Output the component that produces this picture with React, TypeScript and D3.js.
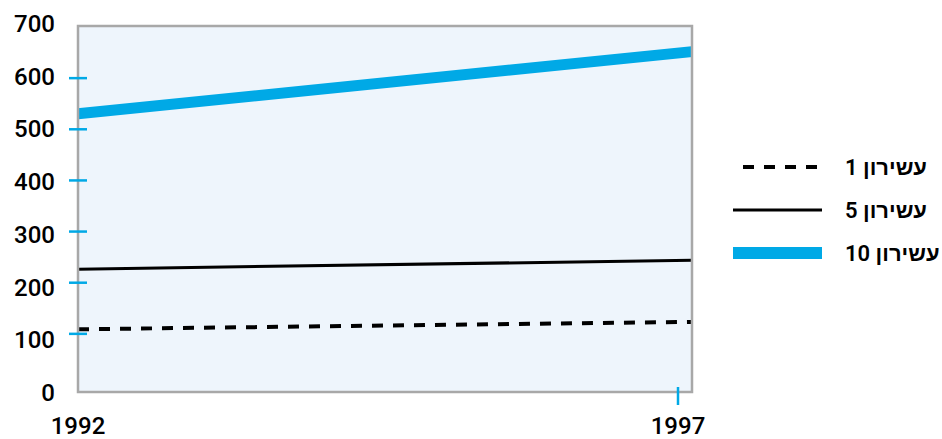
import * as d3 from "d3";

const years = [1992, 1997];
const decile1 = [120, 134];
const decile5 = [235, 252];
const decile10 = [532, 651];
const yTickValues = [100, 200, 300, 400, 500, 600];
const yLabelValues = [0, 100, 200, 300, 400, 500, 600, 700];
const legendLabels = ["עשירון 1", "עשירון 5", "עשירון 10"];

const W = 942;
const H = 439;
const plot = { left: 78, top: 26, right: 692, bottom: 392 };
const font = "Roboto, 'Liberation Sans', Arial, sans-serif";
const blue = "#00a9e6";

function App() {
    const x = d3.scaleLinear().domain([1992, 1997]).range([plot.left, plot.right]);
    const xTick = d3.scaleLinear().domain([1992, 1997]).range([plot.left, 678]);
    const y = d3.scaleLinear().domain([0, 700]).range([plot.bottom, plot.top]);
    const yTick = d3.scaleLinear().domain([0, 700]).range([385, 27]);
    const yLabel = d3.scaleLinear().domain([0, 700]).range([401, 32]);

    const line = d3.line<number>().x((_, i) => x(years[i])).y((v) => y(v));

    const series = [
        { name: legendLabels[0], values: decile1, stroke: "#000", width: 4, dash: "11 10" },
        { name: legendLabels[1], values: decile5, stroke: "#000", width: 3, dash: undefined },
        { name: legendLabels[2], values: decile10, stroke: blue, width: 11, dash: undefined },
    ];
    const legendY = d3.scalePoint().domain(legendLabels).range([167, 253]);

    return (
        <svg width={W} height={H} style={{ position: "absolute", left: 0, top: 0, background: "#fff" }} fontFamily={font}>
            <rect x={plot.left} y={plot.top} width={plot.right - plot.left} height={plot.bottom - plot.top} fill="#eef5fc" />

            {series.map((s) => (
                <path key={s.name} d={line(s.values)!} fill="none" stroke={s.stroke} strokeWidth={s.width} strokeDasharray={s.dash} />
            ))}

            <rect x={plot.left} y={plot.top} width={plot.right - plot.left} height={plot.bottom - plot.top} fill="none" stroke="#a8a8a8" strokeWidth={2.5} />

            {yTickValues.map((t) => (
                <line key={t} x1={69} x2={87} y1={yTick(t)} y2={yTick(t)} stroke={blue} strokeWidth={2.5} />
            ))}
            {yLabelValues.map((t) => (
                <text key={t} x={55} y={yLabel(t)} textAnchor="end" fontSize={24} fontWeight={500}>{t}</text>
            ))}

            <line x1={xTick(1997)} x2={xTick(1997)} y1={387} y2={405} stroke={blue} strokeWidth={2.5} />
            {years.map((yr) => (
                <text key={yr} x={xTick(yr)} y={434} textAnchor="middle" fontSize={24} fontWeight={500}>{yr}</text>
            ))}

            {series.map((s) => (
                <g key={s.name}>
                    <line x1={s.dash ? 743 : 733} x2={822} y1={legendY(s.name)} y2={legendY(s.name)} stroke={s.stroke} strokeWidth={s.width === 11 ? 12 : s.width} strokeDasharray={s.dash} />
                    <text x={845} y={legendY(s.name)! + 8} direction="rtl" textAnchor="end" fontSize={22} fontWeight={600}>{s.name}</text>
                </g>
            ))}
        </svg>
    );
}

export default App;
